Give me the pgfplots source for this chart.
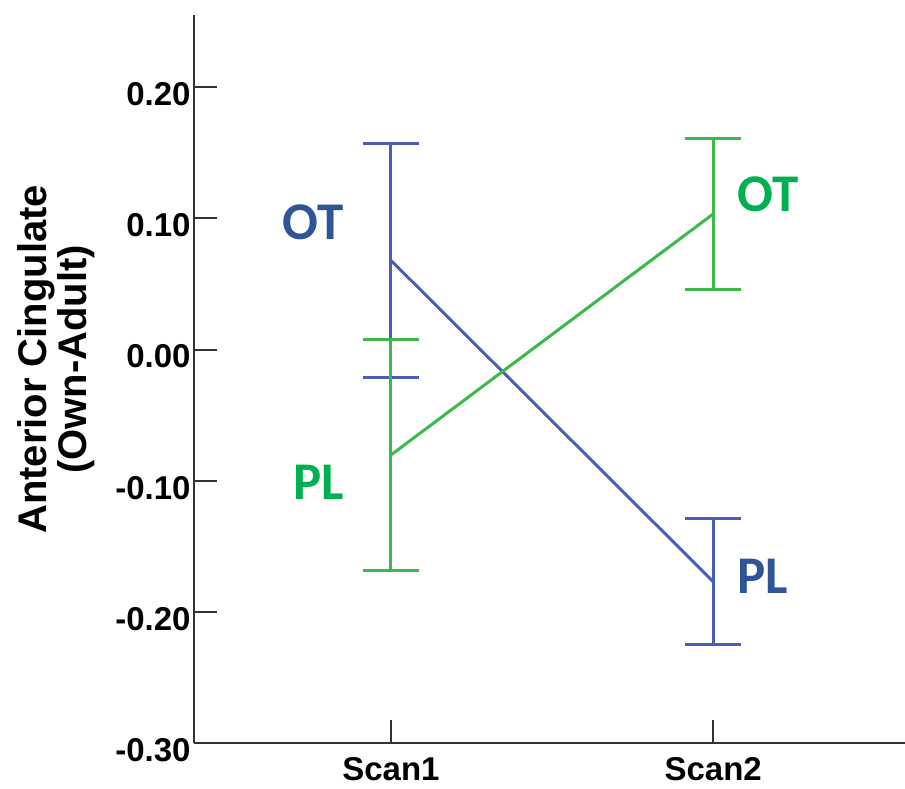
\documentclass[border=0pt]{standalone}
\usepackage{pgfplots}
\pgfplotsset{compat=1.18}
\usepackage{fontspec}
\setmainfont{Liberation Sans}
\newfontfamily\calib{Carlito}
\definecolor{bline}{RGB}{72,96,180}
\definecolor{blab}{RGB}{47,85,151}
\definecolor{gline}{RGB}{60,185,75}
\definecolor{glab}{RGB}{0,176,80}
\definecolor{axc}{RGB}{50,50,50}
\begin{document}
\begin{tikzpicture}
\begin{axis}[
  scale only axis,
  width=355.5pt, height=364pt,
  xmin=0.389, xmax=2.595,
  ymin=-0.30, ymax=0.2551,
  axis x line*=bottom, axis y line*=left,
  axis line style={axc, line width=1pt},
  xtick={1,2}, xticklabels={Scan1,Scan2},
  ytick={-0.3,-0.2,-0.1,0,0.1,0.2},
  tick align=inside,
  major tick length=11.5pt,
  tick style={axc, line width=1pt},
  /pgf/number format/.cd, fixed, fixed zerofill, precision=2, assume math mode=true,
  /pgfplots/.cd,
  ticklabel style={font=\bfseries\fontsize{16.5}{18}\selectfont},
  yticklabel style={inner xsep=1.5pt, yshift=-3.5pt},
  xticklabel style={inner ysep=3pt, yshift=-4pt},
  ylabel={Anterior Cingulate\\(Own-Adult)},
  ylabel style={at={(rel axis cs:0,0.527)}, anchor=center, yshift=69pt, align=center,
    font=\bfseries\fontsize{20}{18.5}\selectfont},
  clip=false,
]
\addplot[bline, line width=1.5pt, error bars/.cd, y dir=both, y explicit,
  error bar style={line width=1.5pt, bline},
  error mark options={rotate=90, mark size=14pt, line width=1.5pt, bline}]
  coordinates {(1,0.068) +- (0,0.089) (2,-0.177) +- (0,0.048)};
\addplot[gline, line width=1.5pt, error bars/.cd, y dir=both, y explicit,
  error bar style={line width=1.5pt, gline},
  error mark options={rotate=90, mark size=14pt, line width=1.5pt, gline}]
  coordinates {(1,-0.0804) +- (0,0.088) (2,0.1034) +- (0,0.0575)};
\node[font=\calib\bfseries\fontsize{26.5}{28}\selectfont, text=blab] at (axis cs:0.758,0.0973) {OT};
\node[font=\calib\bfseries\fontsize{26.5}{28}\selectfont, text=glab] at (axis cs:0.777,-0.1016) {PL};
\node[font=\calib\bfseries\fontsize{26.5}{28}\selectfont, text=glab] at (axis cs:2.170,0.118) {OT};
\node[font=\calib\bfseries\fontsize{26.5}{28}\selectfont, text=blab] at (axis cs:2.154,-0.173) {PL};
\end{axis}
\pgfresetboundingbox
\path ([xshift=-97pt,yshift=-23pt]current axis.south west) rectangle ([yshift=7.5pt]current axis.north east);
\end{tikzpicture}
\end{document}
